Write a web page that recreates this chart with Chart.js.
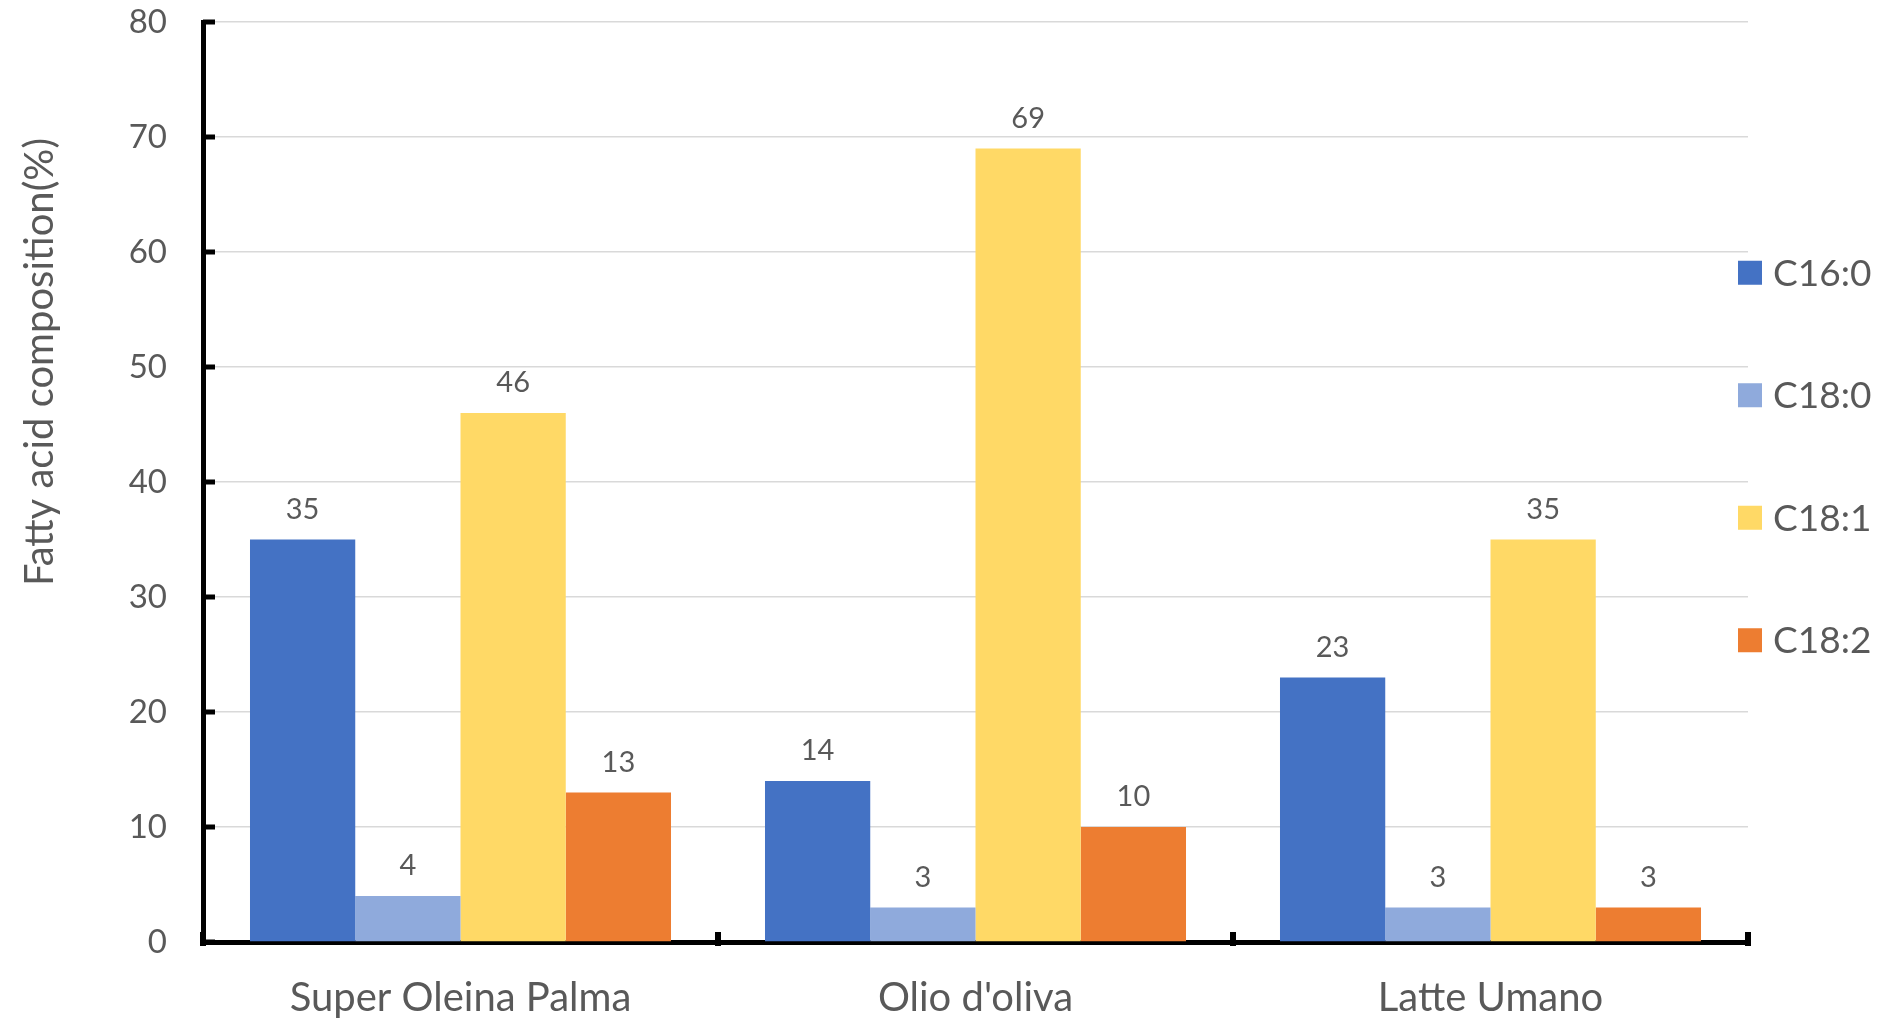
<!DOCTYPE html>
<html>
<head>
<meta charset="utf-8">
<script src="https://cdn.jsdelivr.net/npm/chart.js@4.4.1/dist/chart.umd.min.js"></script>
<style>
  html, body { margin: 0; padding: 0; background: #fff; }
  #wrap { width: 1888px; height: 1023px; }
</style>
</head>
<body>
<div id="wrap"><canvas id="grafico"></canvas></div>
<script>
// Dati del grafico
const categorie = ['Super Oleina Palma', "Olio d'oliva", 'Latte Umano'];
const serieNomi = ['C16:0', 'C18:0', 'C18:1', 'C18:2'];
const c160 = [35, 14, 23];
const c180 = [4, 3, 3];
const c181 = [46, 69, 35];
const c182 = [13, 10, 3];
const colori = ['#4472C4', '#8FAADC', '#FFD966', '#ED7D31'];
const yTitolo = 'Fatty acid composition(%)';

const grigio = '#595959';
const font = 'Lato, Carlito, Calibri, sans-serif';

// Etichette dei valori sopra le barre
const etichettePlugin = {
    id: 'etichette',
    afterDatasetsDraw(chart) {
        const ctx = chart.ctx;
        ctx.save();
        ctx.font = '29px ' + font;
        ctx.fillStyle = grigio;
        ctx.textAlign = 'center';
        ctx.textBaseline = 'middle';
        chart.data.datasets.forEach((ds, i) => {
            chart.getDatasetMeta(i).data.forEach((el, j) => {
                ctx.fillText(String(ds.data[j]), el.x, el.y - 30);
            });
        });
        ctx.restore();
    }
};

// Tacche degli assi verso l'interno (stile Excel) + titolo asse Y
const taccheplugin = {
    id: 'tacche',
    afterDraw(chart) {
        const ctx = chart.ctx;
        const area = chart.chartArea;
        const x = chart.scales.x;
        const y = chart.scales.y;
        ctx.save();
        ctx.fillStyle = '#000';
        y.ticks.forEach((t, i) => {
            const py = y.getPixelForTick(i);
            ctx.fillRect(area.left, py - 2.5, 12, 5);
        });
        const n = x.ticks.length;
        const bordi = [area.left];
        for (let i = 1; i < n; i++) {
            bordi.push((x.getPixelForTick(i - 1) + x.getPixelForTick(i)) / 2);
        }
        bordi.push(area.right);
        bordi.forEach(px => {
            ctx.fillRect(px - 3, area.bottom - 10, 6, 14);
        });

        // titolo asse Y (spostato verso l'alto come nell'originale)
        ctx.translate(40, area.top + 340);
        ctx.rotate(-Math.PI / 2);
        ctx.font = '40px ' + font;
        ctx.fillStyle = grigio;
        ctx.textAlign = 'center';
        ctx.textBaseline = 'middle';
        ctx.fillText(yTitolo, 0, 0);
        ctx.restore();
    }
};

// Legenda a destra
const legendaPlugin = {
    id: 'legenda',
    afterDraw(chart) {
        const ctx = chart.ctx;
        const area = chart.chartArea;
        const centro = area.top + 434.5;
        ctx.save();
        ctx.font = '37px ' + font;
        ctx.textBaseline = 'middle';
        ctx.textAlign = 'left';
        chart.data.datasets.forEach((ds, i) => {
            const cy = centro + (i - 1.5) * 122.5;
            ctx.fillStyle = ds.backgroundColor;
            ctx.fillRect(area.right - 10, cy - 12, 24, 24);
            ctx.fillStyle = grigio;
            ctx.fillText(ds.label, area.right + 25, cy + 1);
        });
        ctx.restore();
    }
};

const valori = [c160, c180, c181, c182];

new Chart(document.getElementById('grafico').getContext('2d'), {
    type: 'bar',
    data: {
        labels: categorie,
        datasets: serieNomi.map((nome, i) => ({
            label: nome,
            data: valori[i],
            backgroundColor: colori[i],
            borderWidth: 0,
            categoryPercentage: 0.8175,
            barPercentage: 1
        }))
    },
    options: {
        responsive: true,
        maintainAspectRatio: false,
        animation: false,
        devicePixelRatio: 1,
        layout: {
            autoPadding: false,
            padding: { left: 93, right: 140, top: 22, bottom: 0 }
        },
        plugins: {
            legend: { display: false },
            tooltip: { enabled: false }
        },
        scales: {
            x: {
                grid: { display: false, drawTicks: false },
                border: { display: true, color: '#000', width: 5 },
                ticks: {
                    color: grigio,
                    font: { family: font, size: 40 },
                    padding: 32,
                    maxRotation: 0
                },
                afterFit(scale) {
                    scale.height = 81;
                    scale.paddingLeft = 0;
                    scale.paddingRight = 0;
                }
            },
            y: {
                min: 0,
                max: 80,
                grid: { color: '#d9d9d9', lineWidth: 1.5, drawTicks: false },
                border: { display: true, color: '#000', width: 5 },
                ticks: {
                    stepSize: 10,
                    color: grigio,
                    font: { family: font, size: 33 },
                    padding: 36
                },
                afterFit(scale) {
                    scale.width = 110;
                    scale.paddingTop = 0;
                    scale.paddingBottom = 0;
                }
            }
        }
    },
    plugins: [etichettePlugin, taccheplugin, legendaPlugin]
});
</script>
</body>
</html>
